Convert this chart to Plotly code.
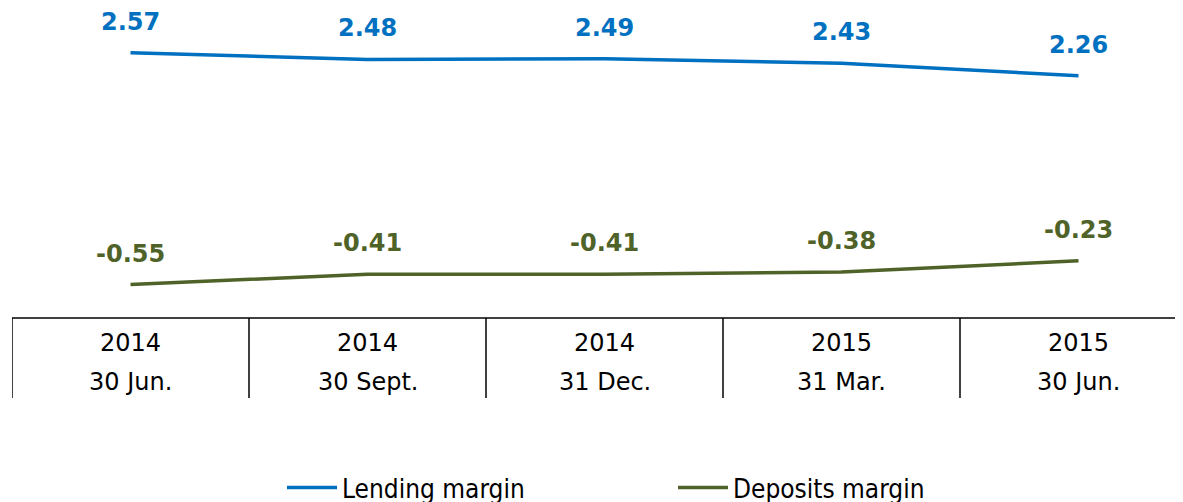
import plotly.graph_objects as go

years = ["2014", "2014", "2014", "2015", "2015"]
dates = ["30 Jun.", "30 Sept.", "31 Dec.", "31 Mar.", "30 Jun."]
lending = [2.57, 2.48, 2.49, 2.43, 2.26]
deposits = [-0.55, -0.41, -0.41, -0.38, -0.23]

BLUE = "#0070C0"
GREEN = "#4F6228"
FONT = "DejaVu Sans"
LEGFONT = "DejaVu Sans Condensed, Liberation Sans Narrow, DejaVu Sans"

x = list(range(len(years)))
W, H = 1183, 502
OFF = 8                      # page body offset
ML = 12 - OFF
AXIS_Y = 318 - OFF
MB = H - AXIS_Y
cat_px = 237
xmax = (W - ML) / cat_px - 0.5
plot_h = AXIS_Y
px_per_unit = 74.3
ytop = -1.0 + plot_h / px_per_unit

fig = go.Figure()
fig.add_trace(go.Scatter(x=x, y=lending, mode="lines", name="Lending margin",
                         line=dict(color=BLUE, width=3.5)))
fig.add_trace(go.Scatter(x=x, y=deposits, mode="lines", name="Deposits margin",
                         line=dict(color=GREEN, width=3.5)))

ann = []
for xi, v in zip(x, lending):
    ann.append(dict(x=xi, y=v, xref="x", yref="y", text=f"<b>{v:.2f}</b>", showarrow=False,
                    yanchor="middle", yshift=31, font=dict(family=FONT, size=24, color=BLUE)))
for xi, v in zip(x, deposits):
    ann.append(dict(x=xi, y=v, xref="x", yref="y", text=f"<b>{v:.2f}</b>", showarrow=False,
                    yanchor="middle", yshift=31, font=dict(family=FONT, size=24, color=GREEN)))
for xi, yr, d in zip(x, years, dates):
    ann.append(dict(x=xi, y=-25 / plot_h, xref="x", yref="paper", text=yr, showarrow=False,
                    yanchor="middle", font=dict(family=FONT, size=24, color="#000000")))
    ann.append(dict(x=xi, y=-64 / plot_h, xref="x", yref="paper", text=d, showarrow=False,
                    yanchor="middle", font=dict(family=FONT, size=24, color="#000000")))

shapes = []
for xi in x:
    shapes.append(dict(type="line", xref="x", yref="paper", x0=xi - 0.5, x1=xi - 0.5,
                       y0=0, y1=-80 / plot_h, line=dict(color="#000000", width=1.5)))
shapes.append(dict(type="line", xref="x", yref="paper", x0=-0.5, x1=xmax,
                   y0=0, y1=0, line=dict(color="#000000", width=1.5)))

fig.update_layout(
    width=W, height=H,
    margin=dict(l=ML, r=0, t=0, b=MB, autoexpand=False),
    paper_bgcolor="white", plot_bgcolor="white",
    xaxis=dict(range=[-0.5, xmax], showgrid=False, zeroline=False, showticklabels=False,
               showline=False, ticks=""),
    yaxis=dict(range=[-1.0, ytop], showgrid=False, zeroline=False, showticklabels=False,
               showline=False, ticks=""),
    annotations=ann, shapes=shapes,
    showlegend=True,
    legend=dict(orientation="h", x=(274 - ML) / (W - ML), xanchor="left",
                y=-(456 - plot_h) / plot_h, yanchor="top",
                itemwidth=50,
                entrywidth=326, entrywidthmode="pixels",
                font=dict(family=LEGFONT, size=26, color="#000000"),
                bgcolor="rgba(0,0,0,0)"),
)

fig.write_html("out.html")
